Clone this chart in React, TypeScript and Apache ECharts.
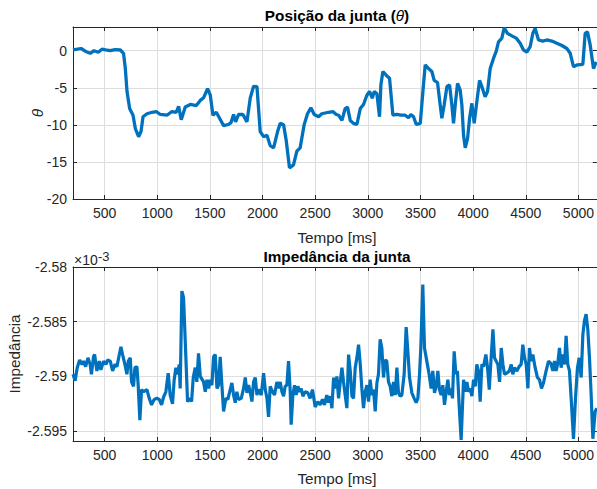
import React, { useEffect, useRef } from "react";
import * as echarts from "echarts";

// Joint position (theta) over time
const posTime = [
  200, 240, 277, 320, 364, 400, 440, 475, 510, 554, 600, 649, 680, 697, 713, 738, 770, 792, 823, 846,
  865, 903, 950, 991, 1029, 1092, 1140, 1181, 1203, 1228, 1266, 1314, 1371, 1409, 1440, 1478, 1504,
  1529, 1561, 1592, 1630, 1677, 1700, 1725, 1744, 1773, 1814, 1852, 1883, 1915, 1947, 1978, 2010,
  2042, 2073, 2105, 2143, 2168, 2200, 2225, 2256, 2294, 2326, 2357, 2395, 2427, 2459, 2491, 2532,
  2563, 2626, 2668, 2700, 2722, 2754, 2785, 2807, 2833, 2864, 2896, 2928, 2959, 2991, 3016, 3042,
  3061, 3086, 3111, 3124, 3143, 3174, 3206, 3238, 3276, 3314, 3355, 3386, 3409, 3434, 3460, 3498,
  3523, 3545, 3576, 3608, 3630, 3662, 3687, 3703, 3725, 3751, 3776, 3798, 3814, 3830, 3852, 3877,
  3893, 3909, 3925, 3947, 3966, 3988, 4010, 4035, 4061, 4083, 4114, 4137, 4162, 4194, 4219, 4241,
  4273, 4295, 4326, 4368, 4409, 4447, 4478, 4510, 4542, 4567, 4589, 4621, 4662, 4700, 4748, 4795,
  4843, 4890, 4922, 4953, 4991, 5042, 5064, 5086, 5112, 5143, 5169,
];
const posTheta = [
  0.1, 0.2, 0.3, -0.1, -0.35, 0.0, -0.2, 0.2, 0.1, 0.0, 0.15, 0.1, -0.35, -2.4, -5.5, -7.8, -8.7,
  -10.5, -11.6, -10.9, -8.9, -8.5, -8.3, -8.2, -8.6, -8.7, -8.2, -8.3, -7.5, -9.3, -7.6, -7.25, -7.4,
  -6.7, -6.35, -5.1, -6.0, -8.7, -8.3, -9.1, -10.1, -9.95, -9.7, -8.6, -9.6, -8.6, -8.6, -9.6, -6.4,
  -4.8, -4.85, -10.9, -11.6, -11.4, -12.8, -13.1, -10.9, -9.8, -10.0, -12.1, -15.8, -15.4, -13.55,
  -13.1, -10.0, -8.5, -7.7, -8.6, -8.9, -8.5, -8.3, -8.2, -8.6, -8.7, -9.4, -7.8, -7.6, -9.4, -9.8,
  -9.95, -7.8, -7.25, -6.0, -5.5, -6.4, -5.5, -5.8, -8.9, -4.6, -2.8, -3.3, -3.7, -8.7, -8.6, -8.7,
  -8.7, -9.05, -8.6, -8.9, -9.95, -9.8, -5.5, -1.9, -2.4, -2.8, -4.0, -4.3, -7.3, -9.1, -7.3, -4.85,
  -4.6, -7.3, -9.8, -7.3, -4.4, -5.3, -7.3, -11.4, -13.1, -11.85, -9.15, -7.1, -9.8, -6.9, -4.0,
  -4.85, -6.2, -5.5, -2.4, -1.0, -0.1, 1.2, 1.7, 3.1, 2.35, 2.0, 1.7, 1.0, 0.1, -0.2, 0.55, 2.35,
  3.0, 1.45, 1.3, 1.45, 1.3, 1.0, 0.7, 0.3, -0.35, -2.15, -1.9, -1.85, 2.35, 2.55, 0.75, -2.4, -1.5,
];

// Joint impedance over time, in units of 1e-3
const impTime = [
  200, 220, 240, 263, 285, 300, 320, 342, 363, 375, 395, 405, 427, 450, 465, 490, 513, 528, 554, 576,
  598, 617, 640, 655, 671, 693, 712, 725, 744, 756, 775, 788, 807, 819, 835, 851, 870, 902, 924, 946,
  971, 997, 1019, 1041, 1060, 1082, 1104, 1123, 1145, 1161, 1177, 1193, 1209, 1218, 1234, 1250, 1272,
  1288, 1310, 1326, 1342, 1361, 1376, 1392, 1409, 1440, 1456, 1472, 1488, 1503, 1519, 1535, 1551,
  1567, 1582, 1598, 1614, 1630, 1652, 1671, 1693, 1709, 1725, 1741, 1756, 1772, 1798, 1820, 1836,
  1852, 1867, 1883, 1899, 1915, 1931, 1947, 1962, 1988, 2010, 2026, 2042, 2057, 2073, 2095, 2114,
  2136, 2152, 2168, 2184, 2200, 2215, 2231, 2247, 2263, 2272, 2288, 2304, 2320, 2336, 2351, 2367,
  2383, 2405, 2430, 2452, 2474, 2500, 2525, 2547, 2569, 2588, 2610, 2626, 2643, 2659, 2675, 2690,
  2706, 2722, 2738, 2754, 2769, 2785, 2801, 2817, 2833, 2849, 2864, 2880, 2896, 2912, 2928, 2943,
  2959, 2975, 2991, 3007, 3022, 3038, 3054, 3070, 3086, 3101, 3117, 3133, 3149, 3165, 3180, 3196,
  3212, 3228, 3244, 3260, 3276, 3291, 3307, 3323, 3345, 3364, 3380, 3396, 3418, 3440, 3459, 3475,
  3491, 3503, 3522, 3538, 3560, 3582, 3601, 3617, 3633, 3649, 3665, 3680, 3696, 3712, 3728, 3744,
  3760, 3775, 3791, 3804, 3820, 3836, 3851, 3867, 3886, 3909, 3925, 3941, 3957, 3972, 3988, 4004,
  4020, 4035, 4051, 4067, 4083, 4099, 4121, 4137, 4153, 4169, 4188, 4203, 4219, 4235, 4251, 4267,
  4283, 4298, 4320, 4343, 4362, 4377, 4393, 4415, 4437, 4456, 4472, 4488, 4504, 4520, 4535, 4551,
  4567, 4589, 4611, 4630, 4649, 4668, 4693, 4716, 4738, 4757, 4773, 4788, 4804, 4820, 4836, 4852,
  4868, 4883, 4899, 4915, 4931, 4953, 4972, 4991, 5007, 5026, 5042, 5057, 5073, 5089, 5105, 5121,
  5137, 5159, 5175,
];
const impValue = [
  -2.5898, -2.5904, -2.5892, -2.5885, -2.5889, -2.5886, -2.5891, -2.5883, -2.5889, -2.5898, -2.5882,
  -2.588, -2.5895, -2.5886, -2.5894, -2.5886, -2.5889, -2.5885, -2.5886, -2.5895, -2.5889, -2.5891,
  -2.588, -2.5873, -2.588, -2.5889, -2.5898, -2.5886, -2.5883, -2.5905, -2.5909, -2.5892, -2.5891,
  -2.5908, -2.594, -2.5912, -2.5914, -2.5912, -2.592, -2.5926, -2.5921, -2.592, -2.5921, -2.5926,
  -2.5919, -2.5914, -2.5897, -2.5917, -2.5925, -2.5903, -2.5892, -2.5898, -2.5889, -2.5911, -2.5822,
  -2.5828, -2.5883, -2.5923, -2.592, -2.5923, -2.5901, -2.5892, -2.5905, -2.5879, -2.59, -2.5905,
  -2.5914, -2.5903, -2.5911, -2.5903, -2.5908, -2.5882, -2.588, -2.5911, -2.5908, -2.5882, -2.5908,
  -2.5932, -2.592, -2.5921, -2.5912, -2.5906, -2.5917, -2.5924, -2.5914, -2.5921, -2.592, -2.5911,
  -2.5901, -2.5915, -2.5908, -2.5914, -2.5923, -2.5905, -2.5901, -2.5917, -2.5912, -2.5917, -2.5897,
  -2.5912, -2.592, -2.5937, -2.5909, -2.5914, -2.5917, -2.5905, -2.5911, -2.5905, -2.5914, -2.5918,
  -2.5909, -2.5908, -2.5886, -2.5914, -2.5944, -2.5917, -2.5908, -2.5917, -2.5909, -2.5914, -2.5911,
  -2.5918, -2.5914, -2.5915, -2.592, -2.5912, -2.5928, -2.5923, -2.5926, -2.5921, -2.5926, -2.5917,
  -2.5924, -2.5918, -2.5929, -2.5901, -2.5911, -2.59, -2.592, -2.5905, -2.5892, -2.5905, -2.5917,
  -2.5929, -2.588, -2.5895, -2.5918, -2.592, -2.5892, -2.5883, -2.5871, -2.5889, -2.5911, -2.5929,
  -2.5914, -2.5908, -2.5923, -2.5903, -2.5917, -2.5912, -2.5932, -2.5906, -2.5898, -2.5866, -2.5874,
  -2.5901, -2.5885, -2.5886, -2.5905, -2.5909, -2.5918, -2.5905, -2.5917, -2.5892, -2.5915, -2.5918,
  -2.5917, -2.5898, -2.5855, -2.5877, -2.5901, -2.5915, -2.592, -2.5924, -2.592, -2.5898, -2.5874,
  -2.5816, -2.5874, -2.5886, -2.5898, -2.5911, -2.5895, -2.5915, -2.5909, -2.5895, -2.5912, -2.5917,
  -2.5908, -2.5926, -2.5914, -2.5903, -2.5917, -2.5911, -2.592, -2.5877, -2.5898, -2.5895, -2.5926,
  -2.5958, -2.5903, -2.5914, -2.5905, -2.5914, -2.5911, -2.5918, -2.5903, -2.5909, -2.5889, -2.5895,
  -2.5923, -2.5889, -2.5891, -2.588, -2.5892, -2.5912, -2.5886, -2.5857, -2.5883, -2.5886, -2.5889,
  -2.5905, -2.5874, -2.5889, -2.5898, -2.5897, -2.5895, -2.5889, -2.5898, -2.5892, -2.5895, -2.5891,
  -2.5889, -2.5871, -2.5883, -2.5889, -2.5911, -2.5874, -2.5886, -2.588, -2.5892, -2.5901, -2.5903,
  -2.5911, -2.5906, -2.5895, -2.5886, -2.5888, -2.5895, -2.5886, -2.5895, -2.5888, -2.5874, -2.5892,
  -2.588, -2.5889, -2.5863, -2.5889, -2.5895, -2.592, -2.5957, -2.592, -2.5892, -2.5883, -2.5901,
  -2.5862, -2.5849, -2.5843, -2.5857, -2.5883, -2.5917, -2.5957, -2.5932, -2.5929,
];

const timeTicks = [500, 1000, 1500, 2000, 2500, 3000, 3500, 4000, 4500, 5000];
const thetaTicks = [-20, -15, -10, -5, 0];
const impTicks = [-2.595, -2.59, -2.585, -2.58];

const FONT = "'Liberation Sans', Arial, Helvetica, sans-serif";
const INK = "#262626";
const GRID = "#dedede";
const LINE = "#0072BD";
const TICK_SIZE = 14;
const LABEL_SIZE = 15.3;

const T_MIN = 200;
const T_MAX = 5175;

function xAxes(gridIndex: number) {
  const base = {
    type: "value",
    gridIndex,
    min: T_MIN,
    max: T_MAX,
    axisLine: { show: true, onZero: false, lineStyle: { color: INK, width: 1 } },
    axisTick: { show: true, inside: true, length: 4, customValues: timeTicks, lineStyle: { color: INK } },
  };
  return [
    {
      ...base,
      position: "bottom",
      axisLabel: {
        customValues: timeTicks,
        color: INK,
        fontSize: TICK_SIZE,
        fontFamily: FONT,
        margin: 7,
        formatter: (v: number) => String(v),
      },
      splitLine: { show: true, customValues: timeTicks, lineStyle: { color: GRID, width: 1 } },
    },
    {
      ...base,
      position: "top",
      axisLabel: { show: false },
      splitLine: { show: false },
    },
  ];
}

function yAxes(gridIndex: number, min: number, max: number, ticks: number[], fmt: (v: number) => string) {
  const base = {
    type: "value",
    gridIndex,
    min,
    max,
    axisLine: { show: true, onZero: false, lineStyle: { color: INK, width: 1 } },
    axisTick: { show: true, inside: true, length: 4, customValues: ticks, lineStyle: { color: INK } },
  };
  return [
    {
      ...base,
      position: "left",
      axisLabel: {
        customValues: ticks,
        color: INK,
        fontSize: TICK_SIZE,
        fontFamily: FONT,
        margin: 6,
        formatter: fmt,
      },
      splitLine: { show: true, customValues: ticks, lineStyle: { color: GRID, width: 1 } },
    },
    {
      ...base,
      position: "right",
      axisLabel: { show: false },
      splitLine: { show: false },
    },
  ];
}

const zip = (xs: number[], ys: number[]) => xs.map((x, i) => [x, ys[i]]);

export default function App() {
  const ref = useRef<HTMLDivElement>(null);

  useEffect(() => {
    if (!ref.current) return;
    const chart = echarts.init(ref.current, null, { renderer: "svg" });

    const option = {
      animation: false,
      backgroundColor: "#ffffff",
      grid: [
        { left: 73, top: 27, width: 524, height: 172 },
        { left: 73, top: 267, width: 524, height: 174 },
      ],
      xAxis: [...xAxes(0), ...xAxes(1)],
      yAxis: [
        ...yAxes(0, -20, 3.2, thetaTicks, (v: number) => String(v)),
        ...yAxes(1, -2.5959, -2.58, impTicks, (v: number) => String(+v.toFixed(3))),
      ],
      series: [
        {
          type: "line",
          xAxisIndex: 0,
          yAxisIndex: 0,
          data: zip(posTime, posTheta),
          showSymbol: false,
          clip: true,
          lineStyle: { color: LINE, width: 3.3 },
          itemStyle: { color: LINE },
        },
        {
          type: "line",
          xAxisIndex: 2,
          yAxisIndex: 2,
          data: zip(impTime, impValue),
          showSymbol: false,
          clip: true,
          lineStyle: { color: LINE, width: 3.2 },
          itemStyle: { color: LINE },
        },
      ],
      graphic: [
        {
          type: "text",
          x: 337,
          y: 15,
          style: {
            text: "{b|Posição da junta (}{bi|θ}{b|)}",
            align: "center",
            verticalAlign: "middle",
            rich: {
              b: { fontFamily: FONT, fontSize: LABEL_SIZE, fontWeight: "bold", fill: "#000", color: "#000" },
              bi: { fontFamily: FONT, fontSize: LABEL_SIZE, fontStyle: "italic", fill: "#000", color: "#000" },
            },
          },
        },
        {
          type: "text",
          x: 337,
          y: 256,
          style: {
            text: "Impedância da junta",
            align: "center",
            verticalAlign: "middle",
            font: `bold ${LABEL_SIZE}px ${FONT}`,
            fill: "#000",
          },
        },
        {
          type: "text",
          x: 337,
          y: 237,
          style: {
            text: "Tempo [ms]",
            align: "center",
            verticalAlign: "middle",
            font: `${LABEL_SIZE}px ${FONT}`,
            fill: INK,
          },
        },
        {
          type: "text",
          x: 337,
          y: 478,
          style: {
            text: "Tempo [ms]",
            align: "center",
            verticalAlign: "middle",
            font: `${LABEL_SIZE}px ${FONT}`,
            fill: INK,
          },
        },
        {
          type: "text",
          x: 37,
          y: 113,
          rotation: Math.PI / 2,
          style: {
            text: "θ",
            align: "center",
            verticalAlign: "middle",
            font: `italic ${LABEL_SIZE}px ${FONT}`,
            fill: INK,
          },
        },
        {
          type: "text",
          x: 14,
          y: 354,
          rotation: Math.PI / 2,
          style: {
            text: "Impedância",
            align: "center",
            verticalAlign: "middle",
            font: `${LABEL_SIZE}px ${FONT}`,
            fill: INK,
          },
        },
        {
          type: "text",
          x: 74,
          y: 260,
          style: {
            text: "×10",
            align: "left",
            verticalAlign: "middle",
            font: `${TICK_SIZE}px ${FONT}`,
            fill: INK,
          },
        },
        {
          type: "text",
          x: 98,
          y: 256,
          style: {
            text: "-3",
            align: "left",
            verticalAlign: "middle",
            font: `${TICK_SIZE - 1}px ${FONT}`,
            fill: INK,
          },
        },
      ],
    };

    chart.setOption(option as any);
    return () => chart.dispose();
  }, []);

  return (
    <div
      ref={ref}
      style={{ position: "absolute", left: 0, top: 0, width: 597, height: 489, background: "#fff" }}
    />
  );
}
